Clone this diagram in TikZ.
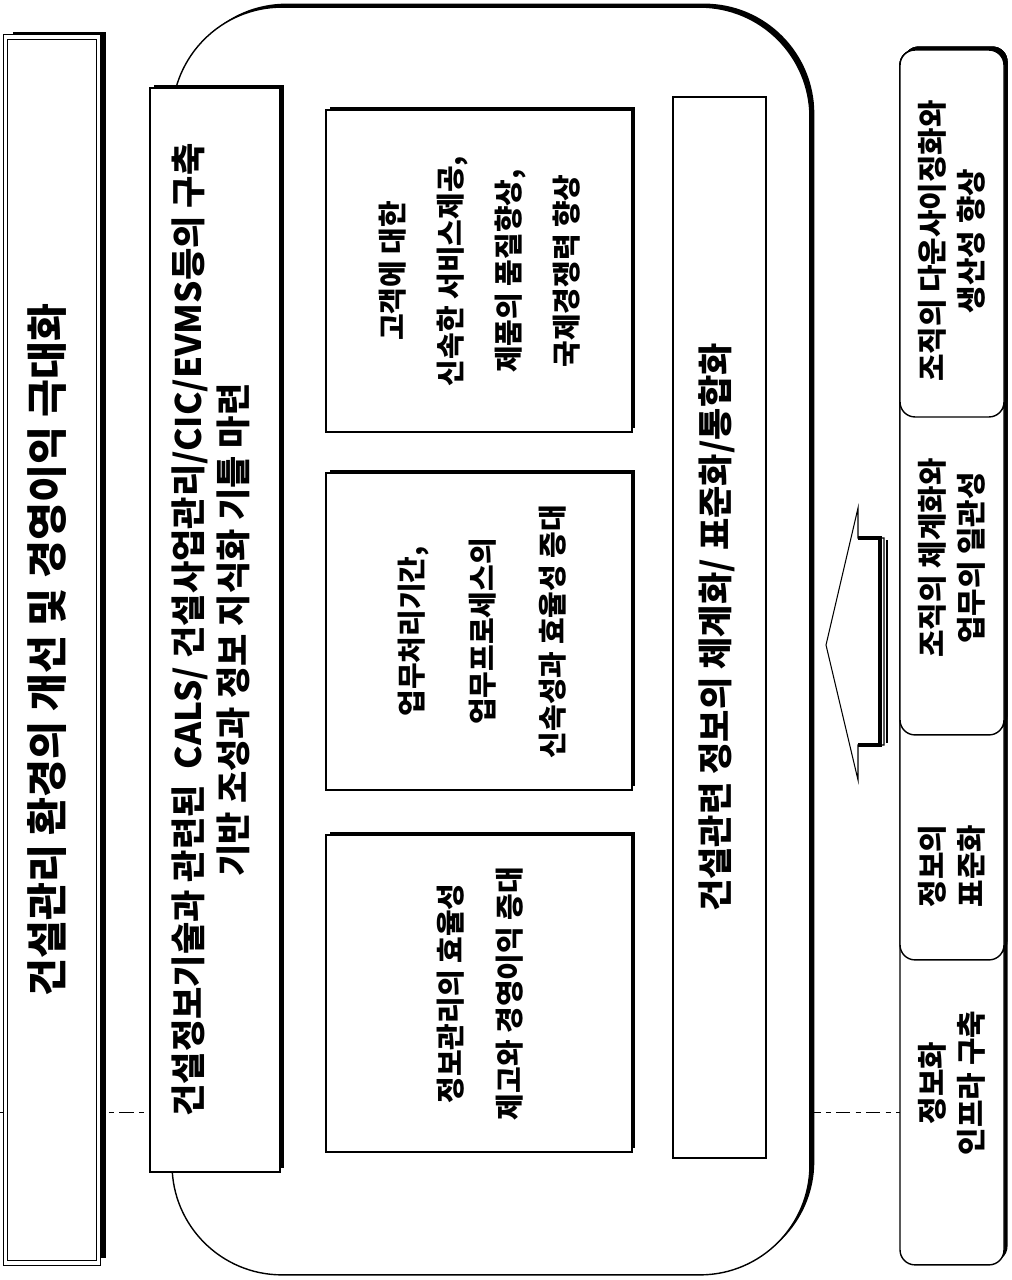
\documentclass[tikz,border=0pt]{standalone}
\usepackage{fontspec}
\setmainfont{Noto Sans CJK KR}
\usepackage{tikz}
\usetikzlibrary{shadows}
\newcommand{\vt}[1]{\rotatebox{90}{\begin{tabular}{@{}c@{}}#1\end{tabular}}}
\tikzset{
  box/.style={draw,fill=white,line width=0.8pt,inner sep=0pt,
    drop shadow={shadow xshift=2pt,shadow yshift=2pt,opacity=1,fill=black}},
  frame/.style={draw,fill=white,line width=0.8pt,inner sep=0pt,rounded corners=2.2cm,
    drop shadow={shadow xshift=2.5pt,shadow yshift=2pt,opacity=1,fill=black}},
  mid/.style={box,minimum width=6.12cm,minimum height=6.34cm},
  tab/.style={box,rounded corners=0.3cm,minimum width=2.08cm},
  tabtext/.style={font=\fontsize{17}{22}\selectfont\bfseries}
}
\begin{document}
\begin{tikzpicture}[x=0.02cm,y=-0.02cm]
\useasboundingbox (0,0) rectangle (1011,1280);
\coordinate (P) at (0,1112);
\coordinate (Q) at (900,1112);
\draw[dash pattern=on 8pt off 3pt on 3pt off 3pt,line width=0.4pt] (P) -- (Q);
\node[frame,minimum width=12.76cm,minimum height=25.36cm] (F) at (491,641) {};
\node[box,minimum width=2.6cm,minimum height=21.68cm,font=\fontsize{20}{25.5}\selectfont\bfseries] (L) at (215,630)
  {\vt{건설정보기술과 관련된 \ CALS/ 건설사업관리/CIC/EVMS등의 구축\\기반 조성과 정보 지식화 기틀 마련}};
\node[mid,minimum height=6.44cm,font=\fontsize{16.5}{33}\selectfont\bfseries] (A) at (479,271)
  {\vt{고객에 대한\\신속한 서비스제공,\\제품의 품질향상,\\국제경쟁력 향상}};
\node[mid,font=\fontsize{16.5}{40}\selectfont\bfseries] (B) at (479,631.5)
  {\vt{업무처리기간,\\업무프로세스의\\신속성과 효율성 증대}};
\node[mid,font=\fontsize{16.5}{34}\selectfont\bfseries] (C) at (479,993.5)
  {\vt{정보관리의 효율성\\제고와 경영이익 증대}};
\node[draw,fill=white,line width=0.8pt,inner sep=0pt,minimum width=1.86cm,minimum height=21.22cm,
  font=\fontsize{20}{25}\selectfont\bfseries] (R) at (719.5,627.5)
  {\vt{건설관련 정보의 체계화/ 표준화/통합화}};
\node[draw,fill=white,double,double distance=2pt,line width=0.5pt,inner sep=0pt,
  minimum width=1.86cm,minimum height=24.52cm,
  drop shadow={shadow xshift=4pt,shadow yshift=3pt,opacity=1,fill=black},
  font=\fontsize{23.5}{28}\selectfont\bfseries] (T) at (52,650)
  {\vt{건설관리 환경의 개선 및 경영이익 극대화}};
\node[tab,minimum height=24.3cm] (R4) at (952,657.5) {};
\node[tab,minimum height=18.2cm] (R3) at (952,505) {};
\node[tab,minimum height=13.7cm] (R2) at (952,392.5) {};
\node[tab,minimum height=7.34cm] (R1) at (952,233.5) {};
\node[tabtext] (D1) at (955,241) {\vt{조직의 다운사이징화와\\생산성 향상}};
\node[tabtext] (D2) at (955,558) {\vt{조직의 체계화와\\업무의 일관성}};
\node[tabtext] (D3) at (955,866) {\vt{정보의\\표준화}};
\node[tabtext] (D4) at (955,1083) {\vt{정보화\\인프라 구축}};
\draw[line width=0.6pt,fill=white] (826,645) -- (858,508) -- (858,538) -- (884,538)
  -- (884,745) -- (858,745) -- (858,780) -- cycle;
\draw[line width=1.8pt] (858,538) -- (880,538) -- (880,745) -- (858,745);
\draw[line width=0.8pt] (887,540) -- (887,743);
\end{tikzpicture}
\end{document}
